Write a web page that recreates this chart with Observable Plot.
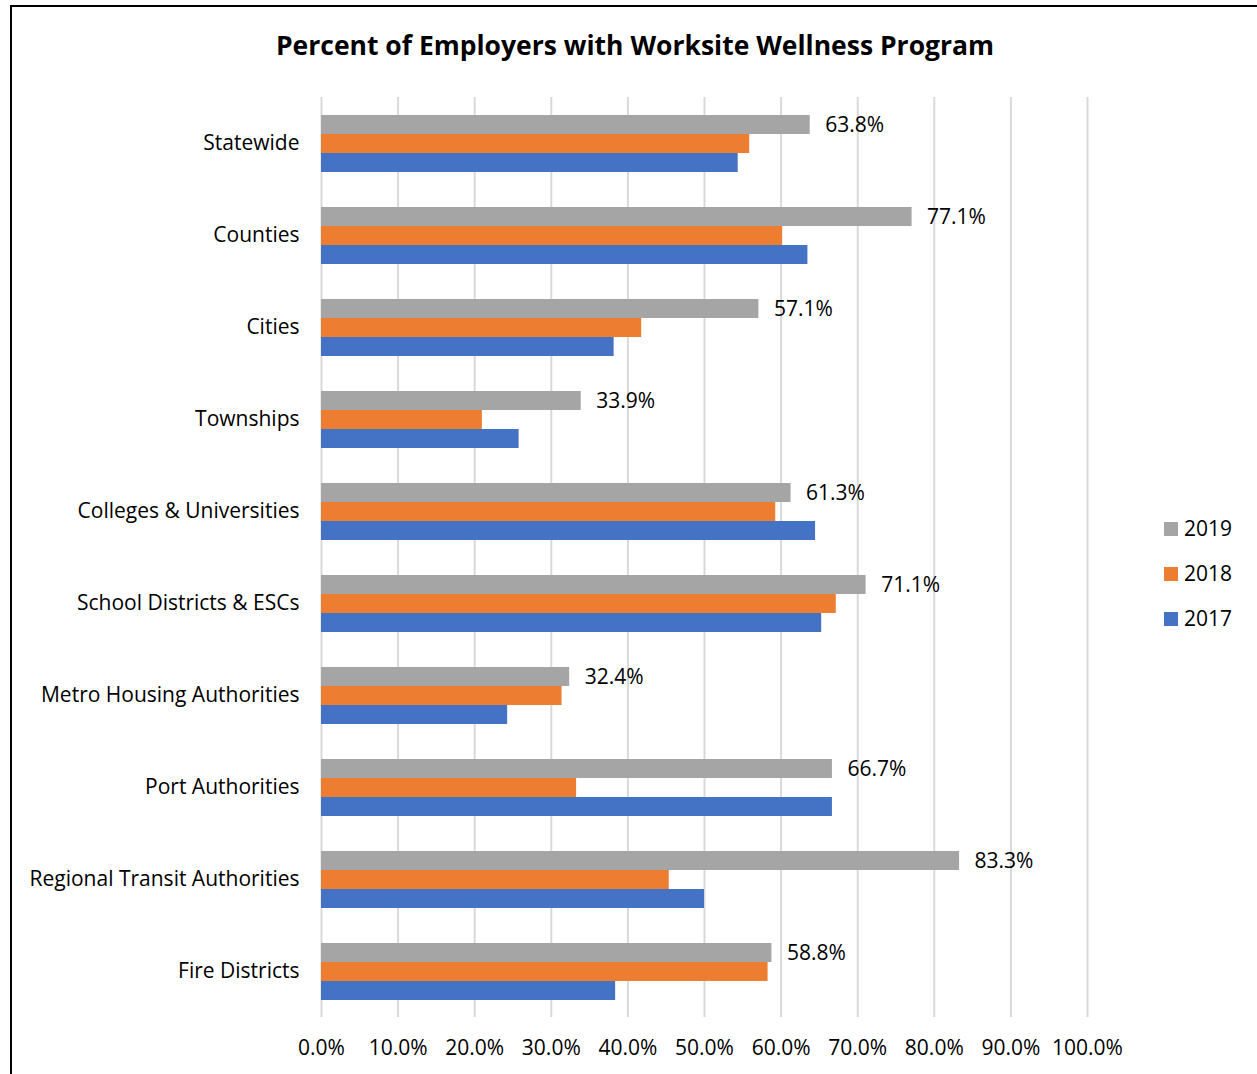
<!DOCTYPE html>
<html><head><meta charset="utf-8">
<script src="https://cdn.jsdelivr.net/npm/d3@7"></script>
<script src="https://cdn.jsdelivr.net/npm/@observablehq/plot@0.6"></script>
<style>
body{margin:0;background:#fff;font-family:"Open Sans",sans-serif;}
#wrap{position:relative;width:1257px;height:1074px;overflow:hidden;background:#fff;}
#frame{position:absolute;left:10px;top:5px;width:1300px;height:1200px;border-left:2px solid #000;border-top:2px solid #000;}
#title{position:absolute;left:0;top:27px;width:1270px;text-align:center;font-weight:bold;font-size:26.5px;color:#000;}
#chart{position:absolute;left:0;top:0;}
#legend{position:absolute;left:1164px;top:514px;font-size:21px;color:#000;}
#legend div{height:45px;display:flex;align-items:flex-start;}
#legend span.sw{display:inline-block;width:14px;height:14px;margin-right:6px;margin-top:8px;}
</style></head><body>
<div id="wrap"><div id="frame"></div><div id="chart"></div><div id="title"></div><div id="legend"></div></div>
<script>
const titleText = "Percent of Employers with Worksite Wellness Program";
const categories = ["Statewide","Counties","Cities","Townships","Colleges & Universities","School Districts & ESCs","Metro Housing Authorities","Port Authorities","Regional Transit Authorities","Fire Districts"];
const years = ["2019","2018","2017"];
const v2019 = [63.8,77.1,57.1,33.9,61.3,71.1,32.4,66.7,83.3,58.8];
const v2018 = [55.9,60.2,41.8,21.0,59.3,67.2,31.4,33.3,45.4,58.3];
const v2017 = [54.4,63.5,38.2,25.8,64.5,65.3,24.3,66.7,50.0,38.4];
const xTicks = [0,10,20,30,40,50,60,70,80,90,100];
const colors = ["#A5A5A5","#ED7D31","#4472C4"];

const series = [v2019, v2018, v2017];
const data = [];
categories.forEach((c, i) => years.forEach((y, j) => data.push({category: c, year: y, value: series[j][i]})));
const labels = categories.map((c, i) => ({category: c, year: "2019", value: v2019[i]}));

document.getElementById("title").textContent = titleText;

const chart = Plot.plot({
  width: 1257,
  height: 1074,
  marginLeft: 321,
  marginRight: 170,
  marginTop: 97,
  marginBottom: 57,
  style: {fontFamily: "'Open Sans', sans-serif", fontSize: "21px", color: "#000", background: "transparent"},
  x: {domain: [0, 100], ticks: xTicks, tickFormat: d => d.toFixed(1) + "%", tickSize: 0, tickPadding: 22, label: null},
  fy: {domain: categories, padding: 0, label: null},
  y: {domain: years, paddingInner: 0, paddingOuter: 0.92, axis: null},
  color: {domain: years, range: colors},
  marks: [
    Plot.ruleX(xTicks, {stroke: "#D9D9D9", strokeWidth: 2}),
    Plot.barX(data, {fy: "category", y: "year", x: "value", fill: "year"}),
    Plot.text(labels, {fy: "category", y: "year", x: "value", text: d => d.value.toFixed(1) + "%", textAnchor: "start", dx: 15, fontSize: 21, fill: "#000"}),
    Plot.axisFy({tickSize: 0, tickPadding: 22, fontSize: 21, label: null, anchor: "left"}),
    Plot.axisX({ticks: xTicks, tickFormat: d => d.toFixed(1) + "%", tickSize: 0, tickPadding: 23, fontSize: 21, label: null})
  ]
});
document.getElementById("chart").appendChild(chart);

const legend = document.getElementById("legend");
years.forEach((y, j) => {
  const row = document.createElement("div");
  const sw = document.createElement("span");
  sw.className = "sw"; sw.style.background = colors[j];
  row.appendChild(sw);
  row.appendChild(document.createTextNode(y));
  legend.appendChild(row);
});
</script>
</body></html>
